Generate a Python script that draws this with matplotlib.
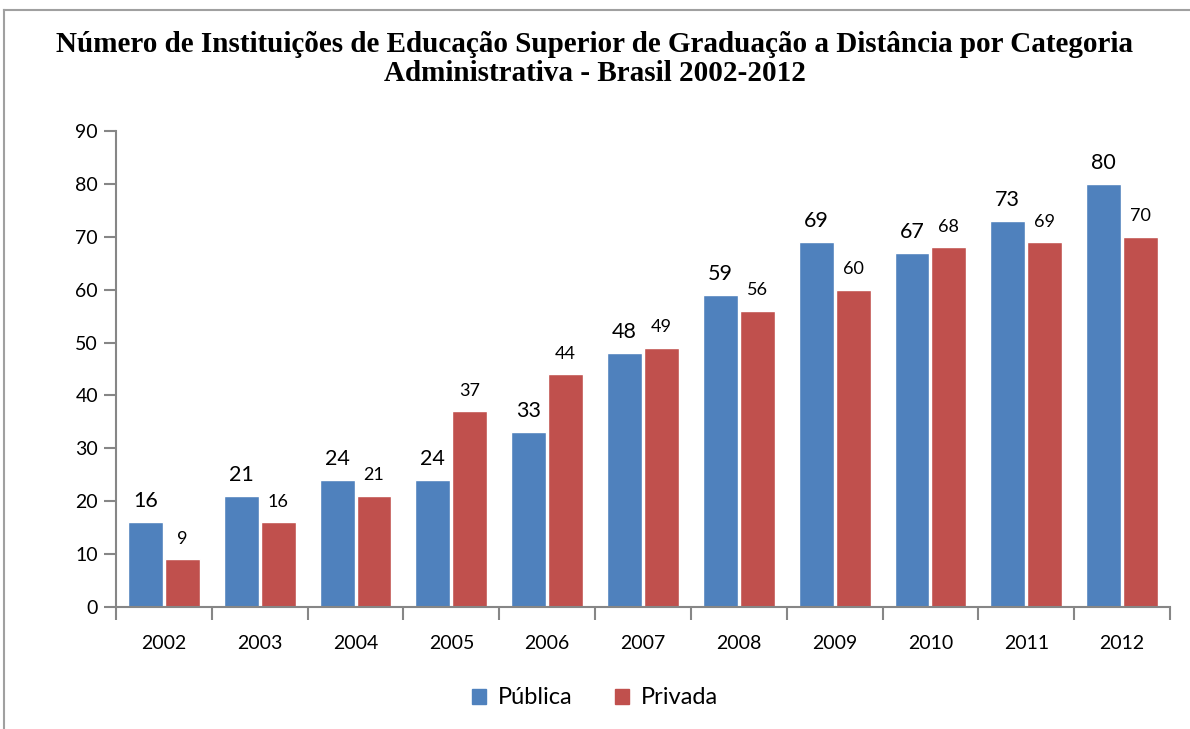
import matplotlib
matplotlib.use("Agg")
import matplotlib.pyplot as plt
import numpy as np
from matplotlib.lines import Line2D

years = ["2002", "2003", "2004", "2005", "2006", "2007",
         "2008", "2009", "2010", "2011", "2012"]
publica = [16, 21, 24, 24, 33, 48, 59, 69, 67, 73, 80]
privada = [9, 16, 21, 37, 44, 49, 56, 60, 68, 69, 70]

BLUE = "#4F81BD"
RED = "#C0504D"
AXIS = "#868686"
SANS = ["Lato", "DejaVu Sans"]

W, H = 1190, 729
fig = plt.figure(figsize=(W / 100, H / 100), dpi=100)
# axes box in pixels: left 116, right 1170, top y=131 (90), bottom y=607 (0)
ax = fig.add_axes([116 / W, 1 - 607 / H, (1170 - 116) / W, (607 - 131) / H])

x = np.arange(len(years))
bw = 0.365
b1 = ax.bar(x - bw / 2 - 0.01, publica, bw, color=BLUE, edgecolor="white", linewidth=1)
b2 = ax.bar(x + bw / 2 + 0.01, privada, bw, color=RED, edgecolor="white", linewidth=1)

for rect, v in zip(b1, publica):
    ax.annotate(str(v), (rect.get_x() + rect.get_width() / 2, v),
                xytext=(0, 8), textcoords="offset points", ha="center", va="bottom",
                fontsize=15.5, family=SANS)
for rect, v in zip(b2, privada):
    ax.annotate(str(v), (rect.get_x() + rect.get_width() / 2, v),
                xytext=(0, 9), textcoords="offset points", ha="center", va="bottom",
                fontsize=13, family=SANS)

ax.set_xlim(-0.5, len(years) - 0.5)
ax.set_ylim(0, 90)
ax.set_yticks(range(0, 91, 10))
ax.set_xticks(x)
ax.set_xticklabels(years)
ax.set_xticks(np.arange(-0.5, len(years), 1), minor=True)
ax.tick_params(axis="x", which="major", length=0, pad=20)
ax.tick_params(axis="x", which="minor", length=9, color=AXIS, width=1.5)
ax.tick_params(axis="y", length=9, color=AXIS, width=1.5, pad=4)
for lab in ax.get_xticklabels() + ax.get_yticklabels():
    lab.set_fontfamily(SANS)
    lab.set_fontsize(14)

for s in ["top", "right"]:
    ax.spines[s].set_visible(False)
for s in ["left", "bottom"]:
    ax.spines[s].set_color(AXIS)
    ax.spines[s].set_linewidth(1.5)

fig.text(0.5, 1 - 59 / H, "Número de Instituições de Educação Superior de Graduação a Distância por Categoria\n"
         "Administrativa - Brasil 2002-2012", ha="center", va="center",
         family=["Liberation Serif", "DejaVu Serif"], fontweight="bold", fontsize=21,
         linespacing=1.05)

handles = [plt.Rectangle((0, 0), 1, 1, color=BLUE), plt.Rectangle((0, 0), 1, 1, color=RED)]
fig.legend(handles, ["Pública", "Privada"], loc="center", bbox_to_anchor=(0.5, 1 - 698 / H),
           ncol=2, frameon=False, prop={"family": SANS, "size": 17},
           handlelength=0.6, handleheight=0.6, columnspacing=1.8, handletextpad=0.5)

# chart frame (top and left edges visible)
fig.add_artist(Line2D([4 / W, 4 / W], [0, 1 - 10 / H], transform=fig.transFigure,
                      color="#A0A0A0", lw=1.5))
fig.add_artist(Line2D([4 / W, 1], [1 - 10 / H, 1 - 10 / H], transform=fig.transFigure,
                      color="#A0A0A0", lw=1.5))

fig.savefig("out.png", dpi=100, facecolor="white")
